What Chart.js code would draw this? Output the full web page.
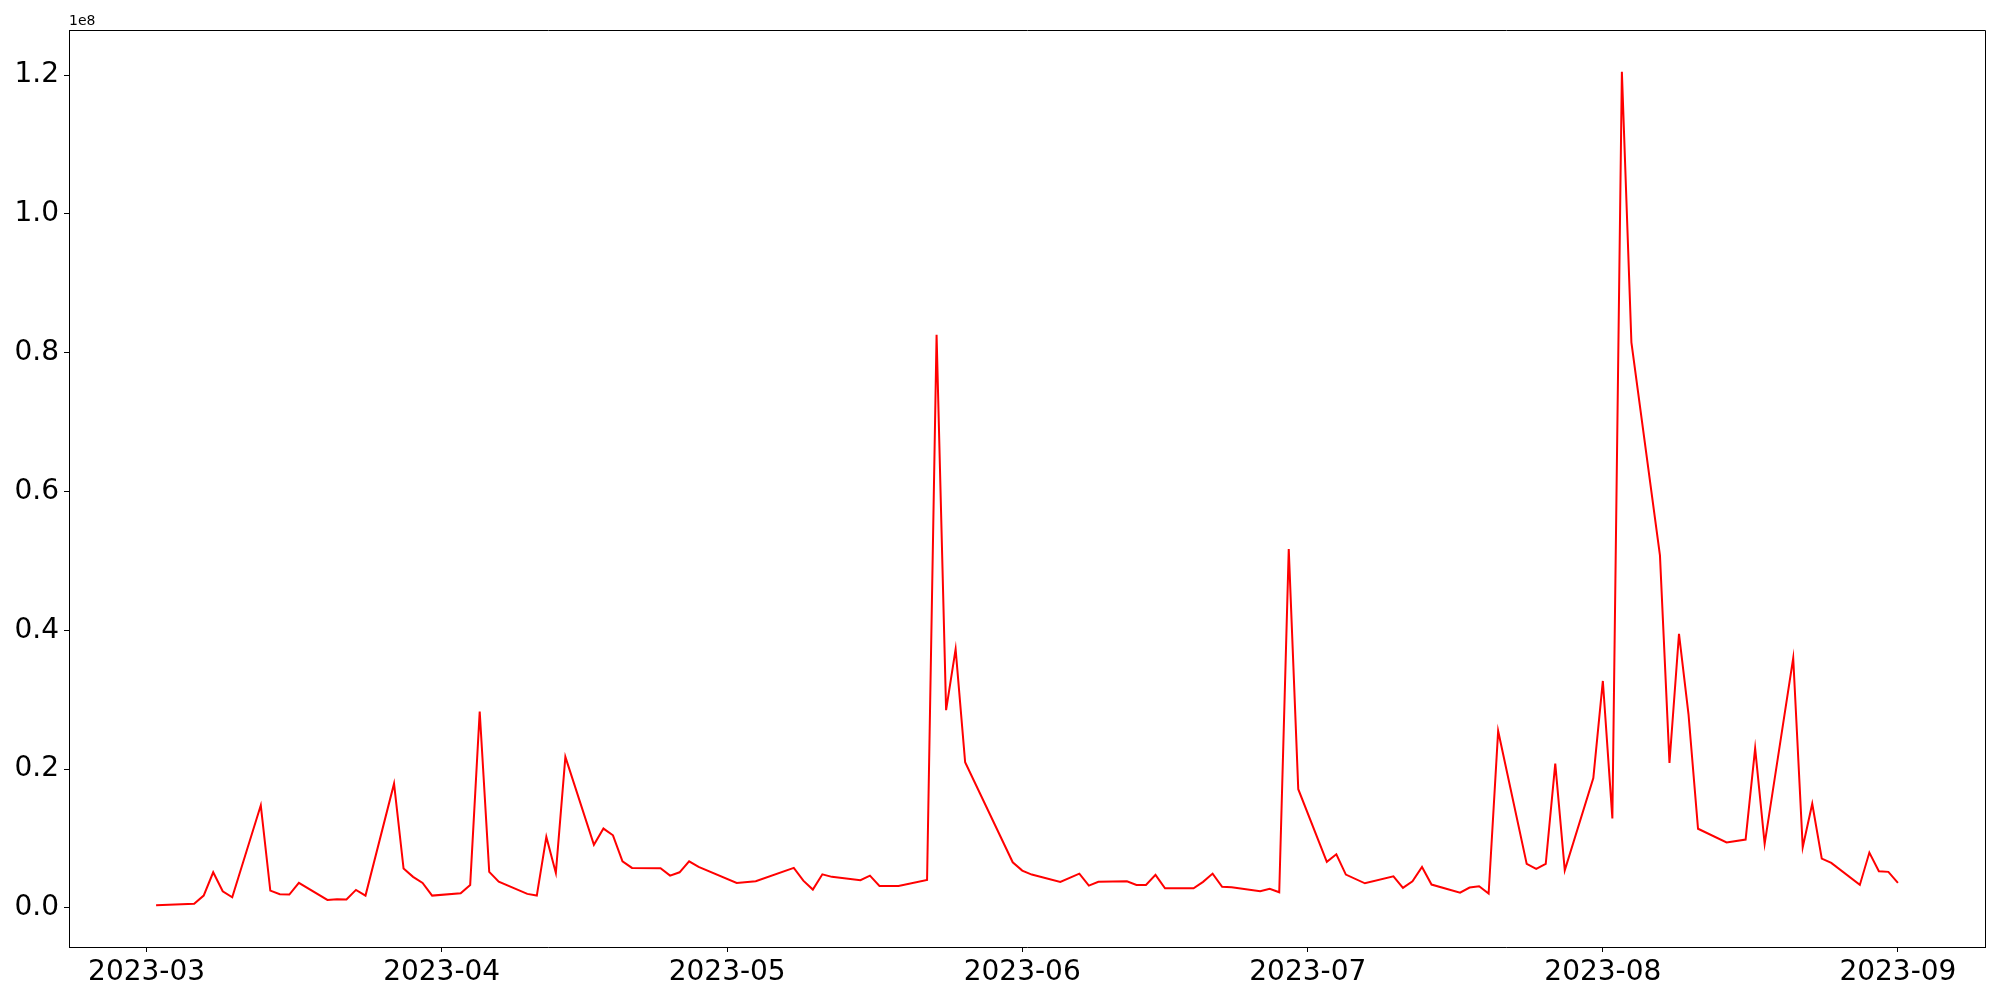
<!DOCTYPE html>
<html>
<head>
<meta charset="utf-8">
<script src="https://cdn.jsdelivr.net/npm/chart.js@4/dist/chart.umd.min.js"></script>
<style>
  html, body { margin: 0; padding: 0; background: #ffffff; }
  #c { display: block; }
</style>
</head>
<body>
<canvas id="c" width="2000" height="1000" style="width:2000px;height:1000px"></canvas>
<script>
// ---- Data (values in millions; axis shows them scaled by 1e8) ----
const dates = [
  '2023-03-02','2023-03-06','2023-03-07','2023-03-08','2023-03-09','2023-03-10',
  '2023-03-13','2023-03-14','2023-03-15','2023-03-16','2023-03-17',
  '2023-03-20','2023-03-21','2023-03-22','2023-03-23','2023-03-24',
  '2023-03-27','2023-03-28','2023-03-29','2023-03-30','2023-03-31',
  '2023-04-03','2023-04-04','2023-04-05','2023-04-06','2023-04-07',
  '2023-04-10','2023-04-11','2023-04-12','2023-04-13','2023-04-14',
  '2023-04-17','2023-04-18','2023-04-19','2023-04-20','2023-04-21',
  '2023-04-24','2023-04-25','2023-04-26','2023-04-27','2023-04-28',
  '2023-05-02','2023-05-04',
  '2023-05-08','2023-05-09','2023-05-10','2023-05-11','2023-05-12',
  '2023-05-15','2023-05-16','2023-05-17','2023-05-19',
  '2023-05-22','2023-05-23','2023-05-24','2023-05-25','2023-05-26',
  '2023-05-31','2023-06-01','2023-06-02',
  '2023-06-05','2023-06-07','2023-06-08','2023-06-09',
  '2023-06-12','2023-06-13','2023-06-14','2023-06-15','2023-06-16',
  '2023-06-19','2023-06-20','2023-06-21','2023-06-22','2023-06-23',
  '2023-06-26','2023-06-27','2023-06-28','2023-06-29','2023-06-30',
  '2023-07-03','2023-07-04','2023-07-05','2023-07-07',
  '2023-07-10','2023-07-11','2023-07-12','2023-07-13','2023-07-14',
  '2023-07-17','2023-07-18','2023-07-19','2023-07-20','2023-07-21',
  '2023-07-24','2023-07-25','2023-07-26','2023-07-27','2023-07-28',
  '2023-07-31','2023-08-01','2023-08-02','2023-08-03','2023-08-04',
  '2023-08-07','2023-08-08','2023-08-09','2023-08-10','2023-08-11',
  '2023-08-14','2023-08-16','2023-08-17','2023-08-18',
  '2023-08-21','2023-08-22','2023-08-23','2023-08-24','2023-08-25',
  '2023-08-28','2023-08-29','2023-08-30','2023-08-31','2023-09-01'
];
const valuesMillions = [
  0.37, 0.58, 1.77, 5.13, 2.39, 1.53,
  14.78, 2.49, 1.96, 1.92, 3.6,
  1.15, 1.24, 1.2, 2.59, 1.77,
  17.9, 5.66, 4.47, 3.6, 1.77,
  2.1, 3.31, 28.3, 5.19, 3.79,
  2.02, 1.77, 10.23, 5.04, 21.76,
  9.08, 11.43, 10.46, 6.71, 5.76,
  5.71, 4.65, 5.13, 6.71, 5.9,
  3.6, 3.83,
  5.76, 3.93, 2.64, 4.84, 4.47,
  3.98, 4.65, 3.17, 3.17,
  4.03, 82.6, 28.5, 37.3, 21.0,
  6.57, 5.37, 4.8,
  3.75, 4.94, 3.21, 3.75,
  3.83, 3.31, 3.31, 4.75, 2.83,
  2.83, 3.75, 4.94, 3.03, 2.97,
  2.39, 2.74, 2.25, 51.7, 17.1,
  6.63, 7.72, 4.8, 3.54,
  4.55, 2.88, 3.83, 5.9, 3.36,
  2.2, 2.93, 3.11, 2.06, 25.5,
  6.34, 5.62, 6.34, 20.8, 5.4,
  18.7, 32.7, 12.9, 120.5, 81.5,
  50.8, 20.9, 39.5, 27.9, 11.4,
  9.43, 9.84, 23.0, 9.22,
  36.0, 8.73, 15.0, 7.1, 6.48,
  3.31, 7.97, 5.27, 5.19, 3.6
];
const xTickDates = ['2023-03-01','2023-04-01','2023-05-01','2023-06-01','2023-07-01','2023-08-01','2023-09-01'];
const yTickValues = [0, 2e7, 4e7, 6e7, 8e7, 1e8, 1.2e8];
const yExponentLabel = '1e8';

// ---- Derived ----
const points = dates.map((d, i) => ({ x: Date.parse(d), y: valuesMillions[i] * 1e6 }));
const xs = points.map(p => p.x), ys = points.map(p => p.y);
const xMin0 = Math.min(...xs), xMax0 = Math.max(...xs);
const yMin0 = Math.min(...ys), yMax0 = Math.max(...ys);
const xPad = (xMax0 - xMin0) * 0.05, yPad = (yMax0 - yMin0) * 0.05;
const xTickValues = xTickDates.map(d => Date.parse(d));

const FONT = '"DejaVu Sans", sans-serif';

const framePlugin = {
  id: 'frame',
  afterDraw(chart) {
    const { ctx, chartArea: a } = chart;
    ctx.save();
    ctx.strokeStyle = '#000';
    ctx.lineWidth = 1;
    ctx.beginPath();
    ctx.moveTo(Math.round(a.left) + 0.5, Math.round(a.top) + 0.5);
    ctx.lineTo(Math.round(a.right) + 0.5, Math.round(a.top) + 0.5);
    ctx.lineTo(Math.round(a.right) + 0.5, Math.round(a.bottom) + 0.5);
    ctx.stroke();
    ctx.fillStyle = '#000';
    ctx.font = '14px ' + FONT;
    ctx.textAlign = 'left';
    ctx.textBaseline = 'alphabetic';
    ctx.fillText(yExponentLabel, a.left, a.top - 5);
    ctx.restore();
  }
};

new Chart(document.getElementById('c'), {
  type: 'line',
  data: {
    datasets: [{
      data: points,
      borderColor: '#ff0000',
      borderWidth: 2,
      pointRadius: 0,
      tension: 0,
      fill: false
    }]
  },
  options: {
    responsive: false,
    animation: false,
    devicePixelRatio: 1,
    layout: { padding: { top: 30, right: 15, left: 0, bottom: 0 } },
    plugins: { legend: { display: false }, tooltip: { enabled: false } },
    scales: {
      x: {
        type: 'linear',
        min: xMin0 - xPad,
        max: xMax0 + xPad,
        afterBuildTicks(scale) { scale.ticks = xTickValues.map(v => ({ value: v })); },
        afterFit(scale) { scale.height = 53; },
        ticks: {
          autoSkip: false,
          maxRotation: 0,
          minRotation: 0,
          color: '#000',
          padding: 4,
          font: { family: FONT, size: 28 },
          callback(v) {
            const d = new Date(v);
            return d.getUTCFullYear() + '-' + String(d.getUTCMonth() + 1).padStart(2, '0');
          }
        },
        grid: { display: true, drawOnChartArea: false, drawTicks: true, tickLength: 5, tickColor: '#000', tickWidth: 1 },
        border: { display: true, color: '#000', width: 1 }
      },
      y: {
        type: 'linear',
        min: yMin0 - yPad,
        max: yMax0 + yPad,
        afterBuildTicks(scale) { scale.ticks = yTickValues.map(v => ({ value: v })); },
        afterFit(scale) { scale.width = 69; },
        ticks: {
          color: '#000',
          padding: 5,
          font: { family: FONT, size: 28 },
          callback(v) { return (v / 1e8).toFixed(1); }
        },
        grid: { display: true, drawOnChartArea: false, drawTicks: true, tickLength: 5, tickColor: '#000', tickWidth: 1 },
        border: { display: true, color: '#000', width: 1 }
      }
    }
  },
  plugins: [framePlugin]
});
</script>
</body>
</html>
